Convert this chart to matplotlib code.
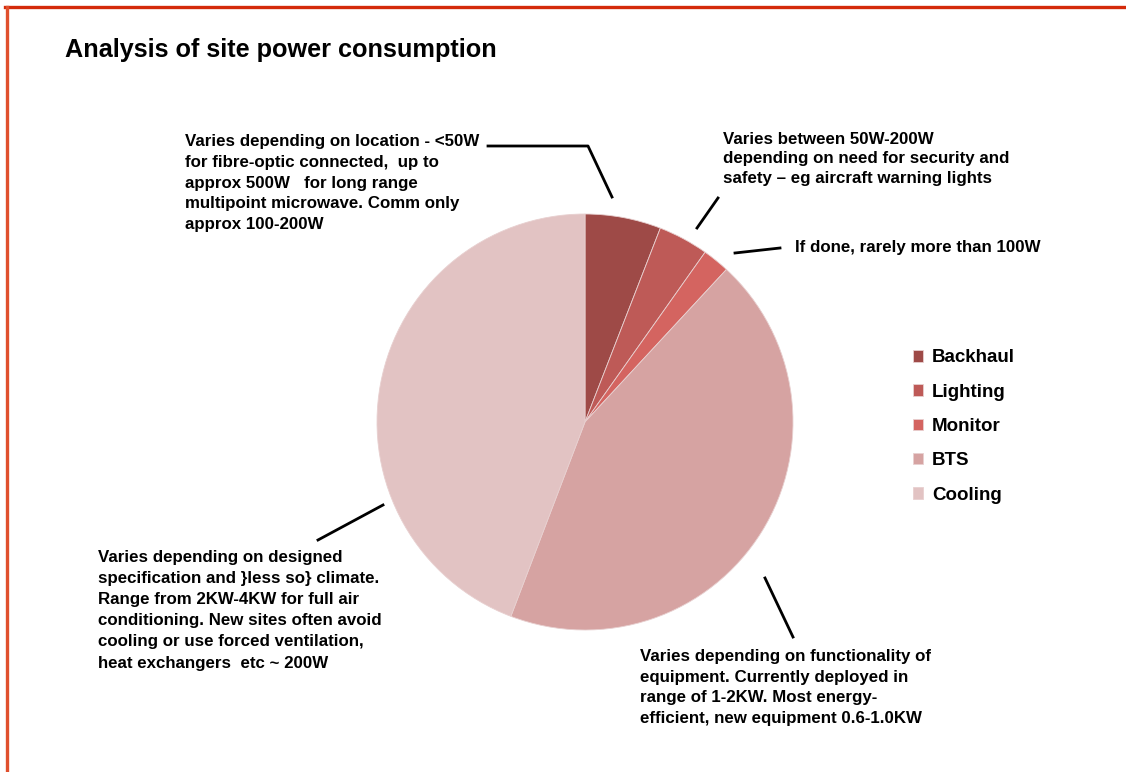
import matplotlib.pyplot as plt
from matplotlib.lines import Line2D

W, H = 1126, 772

labels = ["Backhaul", "Lighting", "Monitor", "BTS", "Cooling"]
shares = [5.9, 3.9, 2.1, 43.9, 44.2]
colors = ["#9E4A47", "#BE5A57", "#D46460", "#D6A3A2", "#E2C3C3"]

notes = [
    "Varies depending on location - <50W\nfor fibre-optic connected,  up to\napprox 500W   for long range\nmultipoint microwave. Comm only\napprox 100-200W",
    "Varies between 50W-200W\ndepending on need for security and\nsafety \u2013 eg aircraft warning lights",
    "If done, rarely more than 100W",
    "Varies depending on functionality of\nequipment. Currently deployed in\nrange of 1-2KW. Most energy-\nefficient, new equipment 0.6-1.0KW",
    "Varies depending on designed\nspecification and }less so} climate.\nRange from 2KW-4KW for full air\nconditioning. New sites often avoid\ncooling or use forced ventilation,\nheat exchangers  etc ~ 200W",
]

plt.rcParams['font.family'] = ['Liberation Sans', 'DejaVu Sans']

fig = plt.figure(figsize=(W / 100, H / 100), dpi=100)
ax = fig.add_axes([0, 0, 1, 1])


def Y(py):
    # pixel row (from top) to data y
    return H - py


wedges, _ = ax.pie(shares, colors=colors, startangle=90, counterclock=False,
                   center=(585, Y(422)), radius=208, frame=True,
                   wedgeprops=dict(linewidth=0.6, edgecolor="#E8D0D0"))
ax.set_xlim(0, W)
ax.set_ylim(0, H)
ax.set_aspect('equal')
ax.axis('off')

# frame lines along top and left edge
fig.add_artist(Line2D([5 / W, 1], [1 - 7 / H, 1 - 7 / H], color="#D42A0A", lw=2.4))
fig.add_artist(Line2D([7 / W, 7 / W], [1 - 7 / H, 0], color="#E0502E", lw=2.4))

ax.text(65, Y(50), "Analysis of site power consumption", fontsize=18.2,
        fontweight='bold', va='center', ha='left')

# leader lines
leaders = [
    ([488, 588, 612], [146, 146, 197]),
    ([697, 718], [228, 198]),
    ([735, 780], [253, 248]),
    ([765, 793], [578, 637]),
    ([383, 318], [505, 540]),
]
for xs, ys in leaders:
    ax.plot(xs, [Y(v) for v in ys], color="black", lw=2)

note_pos = [(185, 134), (723, 132), (795, 240), (640, 649), (98, 550)]
note_spacing = [1.48, 1.37, 1.3, 1.47, 1.51]
for txt, (x, y), ls in zip(notes, note_pos, note_spacing):
    ax.text(x, Y(y), txt, fontsize=12.2, fontweight='bold', va='top',
            ha='left', linespacing=ls)

ax.legend(wedges, labels, loc='upper left', bbox_to_anchor=(905 / W, 1 - 342 / H),
          frameon=False, handlelength=0.55, handleheight=0.55,
          handletextpad=0.5, labelspacing=0.92, borderaxespad=0,
          prop=dict(weight='bold', size=13.5))

fig.savefig("out.png", dpi=100)
